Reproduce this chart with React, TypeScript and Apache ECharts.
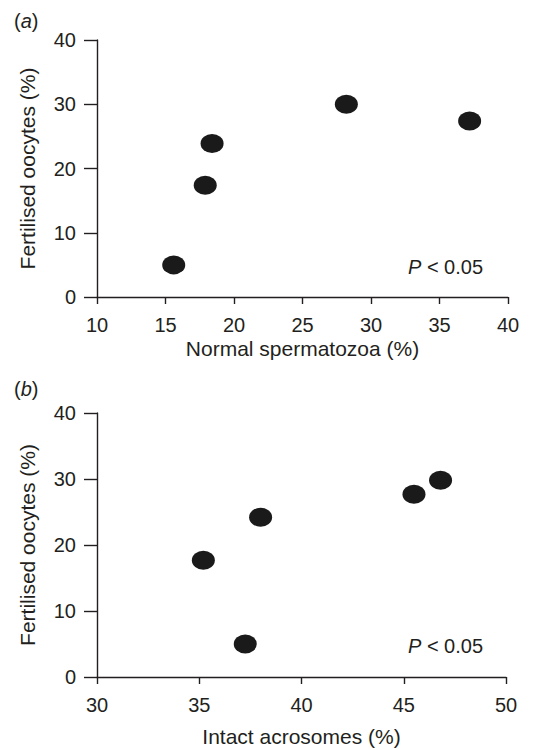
import React, { useEffect, useRef } from "react";
import * as echarts from "echarts";

const spermX = [15.6, 17.9, 18.4, 28.2, 37.2];
const spermY = [5.0, 17.4, 23.9, 30.0, 27.4];
const acroX = [35.2, 37.25, 38.0, 45.5, 46.8];
const acroY = [17.7, 5.0, 24.2, 27.7, 29.8];
const yTicks = [0, 10, 20, 30, 40];
const panelLabels = ["a", "b"];
const xTitles = ["Normal spermatozoa (%)", "Intact acrosomes (%)"];
const yTitle = "Fertilised oocytes (%)";
const pText = "P";
const pRest = " < 0.05";

const FONT = "'Liberation Sans', Arial, Helvetica, sans-serif";
const INK = "#231f20";
const ELLIPSE = "path://M0 10a12 10 0 1 0 24 0a12 10 0 1 0 -24 0z";

export default function App() {
  const ref = useRef<HTMLDivElement>(null);
  useEffect(() => {
    if (!ref.current) return;
    const chart = echarts.init(ref.current, null, { renderer: "svg" });
    const axisCommon = {
      axisLine: { show: true, lineStyle: { color: INK, width: 1.4 } },
      splitLine: { show: false },
    };
    const xAxis = (idx: number, min: number, max: number, interval: number, gap: number) => ({
      type: "value",
      gridIndex: idx,
      min,
      max,
      interval,
      ...axisCommon,
      axisTick: { show: true, length: 7, lineStyle: { color: INK, width: 1.4 } },
      axisLabel: { color: INK, fontSize: 20, fontFamily: FONT, margin: 18 },
      name: xTitles[idx],
      nameLocation: "middle",
      nameGap: gap,
      nameTextStyle: { color: INK, fontSize: 21, fontFamily: FONT },
    });
    const yAxis = (idx: number) => ({
      type: "value",
      gridIndex: idx,
      min: yTicks[0],
      max: yTicks[yTicks.length - 1],
      interval: yTicks[1] - yTicks[0],
      ...axisCommon,
      axisTick: { show: true, length: 13, lineStyle: { color: INK, width: 1.4 } },
      axisLabel: { color: INK, fontSize: 20, fontFamily: FONT, margin: 21 },
      name: yTitle,
      nameLocation: "middle",
      nameGap: 59,
      nameTextStyle: { color: INK, fontSize: 21, fontFamily: FONT },
    });
    const series = (idx: number, xs: number[], ys: number[]) => ({
      type: "scatter",
      xAxisIndex: idx,
      yAxisIndex: idx,
      symbol: ELLIPSE,
      symbolSize: [23, 19],
      itemStyle: { color: "#1a1a1a", opacity: 1 },
      data: xs.map((x, i) => [x, ys[i]]),
    });
    const rich = { i: { fontStyle: "italic", fontSize: 20, fontFamily: FONT, fill: INK, color: INK } };
    const panelText = (label: string, x: number, y: number) => ({
      type: "text",
      left: x,
      top: y,
      style: { text: "({i|" + label + "})", font: `20px ${FONT}`, fill: INK, rich },
    });
    const pLabel = (x: number, y: number) => ({
      type: "text",
      left: x,
      top: y,
      style: { text: "{i|" + pText + "}" + pRest, font: `20px ${FONT}`, fill: INK, rich },
    });
    chart.setOption({
      animation: false,
      backgroundColor: "#ffffff",
      grid: [
        { left: 97, top: 40, width: 411, height: 257 },
        { left: 97, top: 413, width: 409, height: 264 },
      ],
      xAxis: [xAxis(0, 10, 40, 5, 41), xAxis(1, 30, 50, 5, 49)],
      yAxis: [yAxis(0), yAxis(1)],
      series: [series(0, spermX, spermY), series(1, acroX, acroY)],
      graphic: [
        panelText(panelLabels[0], 14, 11),
        panelText(panelLabels[1], 14, 379),
        pLabel(408, 257),
        pLabel(408, 636),
      ],
    });
    return () => chart.dispose();
  }, []);
  return (
    <div
      ref={ref}
      style={{ position: "absolute", left: 0, top: 0, width: 545, height: 750, background: "#fff" }}
    />
  );
}
